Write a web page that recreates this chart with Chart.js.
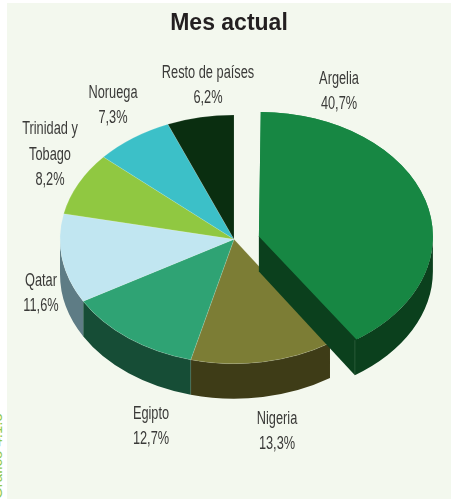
<!DOCTYPE html>
<html>
<head>
<meta charset="utf-8">
<script src="https://cdn.jsdelivr.net/npm/chart.js@4/dist/chart.umd.min.js"></script>
<style>
  html, body { margin: 0; padding: 0; width: 451px; height: 499px; background: #fff; overflow: hidden; }
  #panel { position: absolute; left: 7px; top: 3px; width: 444px; height: 496px; background: #f3f8ee; }
  #source { position: absolute; left: 4px; top: 485px; font: 15px/14px "Liberation Sans", sans-serif;
            color: #8fc84a; transform-origin: 0 100%; transform: rotate(-90deg); white-space: nowrap; }
</style>
</head>
<body>
<div id="panel"><canvas id="chart" width="444" height="496"></canvas></div>
<div id="source">Gráfico 4.1.5</div>
<script>
const categories = ['Argelia', 'Nigeria', 'Egipto', 'Qatar', 'Trinidad y Tobago', 'Noruega', 'Resto de países'];
const shares = [40.7, 13.3, 12.7, 11.6, 8.2, 7.3, 6.2];
const labelLines = [['Argelia'], ['Nigeria'], ['Egipto'], ['Qatar'], ['Trinidad y', 'Tobago'], ['Noruega'], ['Resto de países']];
const topColors = ['#178743', '#7c7d35', '#2fa374', '#c1e6f1', '#90c841', '#3cc0c8', '#0a2e10'];
const wallColors = ['#0b401d', '#3e3c17', '#164d36', '#5e7c85', '#466420', '#1e6064', '#051808'];

// where each label's first line sits, in canvas pixels
const labelSpots = [[332, 76], [270, 416], [144, 411], [34, 278], [43, 126], [106, 90], [201, 70]];

const RADIUS = 174;
const SQUASH = 0.715;
const DEPTH = 35;
const SHIFT_X = 5;

let pivotY = 0;

function flatten(ctx) {
    ctx.translate(SHIFT_X, pivotY);
    ctx.scale(1, SQUASH);
    ctx.translate(0, -pivotY);
}

// side of one slice, worked out from the arc element so it follows the top face
function drawWall(ctx, arc, color) {
    const pull = (arc.options.offset || 0) / 4;
    const mid = (arc.startAngle + arc.endAngle) / 2;
    const r = arc.outerRadius + pull * (1 - Math.sin(Math.min(Math.PI, arc.circumference)));
    const cx = arc.x + SHIFT_X + Math.cos(mid) * pull;
    const cy = pivotY + (arc.y + Math.sin(mid) * pull - pivotY) * SQUASH;
    const ry = r * SQUASH;
    const from = Math.max(arc.startAngle, 0);
    const to = Math.min(arc.endAngle, Math.PI);
    if (to <= from) return;

    ctx.fillStyle = color;
    ctx.beginPath();
    ctx.ellipse(cx, cy, r, ry, 0, from, to);
    ctx.ellipse(cx, cy + DEPTH, r, ry, 0, to, from, true);
    ctx.closePath();
    ctx.fill();

    const edgeX = cx + Math.cos(to) * r;
    const edgeY = cy + Math.sin(to) * ry;
    if (pull > 0) {
        // cut face of the pulled out slice, tucked a little under the top face
        ctx.beginPath();
        ctx.moveTo(cx, cy);
        ctx.lineTo(cx + 3, cy - 3);
        ctx.lineTo(edgeX + 3, edgeY - 3);
        ctx.lineTo(edgeX, edgeY + DEPTH);
        ctx.lineTo(cx, cy + DEPTH);
        ctx.closePath();
        ctx.fill();
    }
    if (to < Math.PI) {
        ctx.strokeStyle = 'rgba(242, 247, 238, 0.22)';
        ctx.lineWidth = 0.6;
        ctx.beginPath();
        ctx.moveTo(edgeX, edgeY);
        ctx.lineTo(edgeX, edgeY + DEPTH);
        ctx.stroke();
    }
}

const pie3d = {
    id: 'pie3d',
    afterDatasetsUpdate(chart) {
        const arcs = chart.getDatasetMeta(0).data;
        const pulled = arcs[0];
        pivotY = arcs[1].y;
        // Chart.js widens an offset arc while drawing it, take that back
        const grow = (pulled.options.offset / 4) * (1 - Math.sin(Math.min(Math.PI, pulled.circumference)));
        pulled.outerRadius = RADIUS - grow;
        pulled.y = pivotY + 3.4;
    },
    beforeDatasetsDraw(chart) {
        const arcs = chart.getDatasetMeta(0).data;
        const ctx = chart.ctx;
        arcs.forEach((arc, i) => {
            if (i > 0) drawWall(ctx, arc, wallColors[i]);
        });
        ctx.save();
        flatten(ctx);
    },
    afterDatasetsDraw(chart) {
        const arcs = chart.getDatasetMeta(0).data;
        const ctx = chart.ctx;
        ctx.restore();
        // the pulled out slice sits in front of its neighbours
        drawWall(ctx, arcs[0], wallColors[0]);
        ctx.save();
        flatten(ctx);
        const saved = arcs[0].options;
        arcs[0].options = Object.assign({}, saved, { borderWidth: 0 });
        arcs[0].draw(ctx);
        arcs[0].options = saved;
        ctx.restore();
    }
};

const sliceLabels = {
    id: 'sliceLabels',
    afterDraw(chart) {
        const ctx = chart.ctx;
        ctx.save();
        ctx.font = '18px "Liberation Sans Narrow", "Liberation Sans", sans-serif';
        ctx.fillStyle = '#3a3a38';
        ctx.textAlign = 'center';
        ctx.textBaseline = 'middle';
        const put = (text, x, y) => ctx.fillText(text, x, y, ctx.measureText(text).width * 0.71);
        categories.forEach((name, i) => {
            const [x, y] = labelSpots[i];
            let row = y;
            labelLines[i].forEach((line) => {
                put(line, x, row);
                row += 26;
            });
            put(shares[i].toFixed(1).replace('.', ',') + '%', x, row - 1);
        });
        ctx.restore();
    }
};

new Chart(document.getElementById('chart'), {
    type: 'pie',
    data: {
        labels: categories,
        datasets: [{
            data: shares,
            backgroundColor: topColors,
            borderWidth: 0.5,
            borderColor: 'rgba(242, 247, 238, 0.35)',
            offset: [104, 0, 0, 0, 0, 0, 0],
            clip: false
        }]
    },
    options: {
        responsive: false,
        animation: false,
        radius: RADIUS,
        layout: { padding: { bottom: 58 } },
        plugins: {
            legend: { display: false },
            tooltip: { enabled: false },
            title: {
                display: true,
                text: 'Mes actual',
                color: '#231f20',
                font: { family: '"Liberation Sans", sans-serif', size: 23, weight: 'bold' },
                padding: { top: 7, bottom: 0 }
            }
        }
    },
    plugins: [pie3d, sliceLabels]
});
</script>
</body>
</html>
